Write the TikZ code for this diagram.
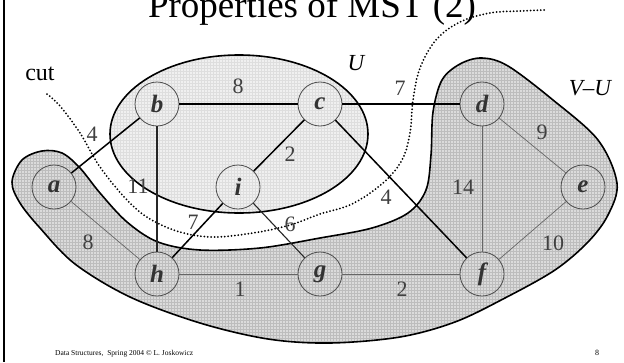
\documentclass[tikz,border=0pt]{standalone}
\usepackage{fontspec}
\setmainfont{Liberation Serif}
\usetikzlibrary{patterns}
\begin{document}
\begin{tikzpicture}[x=1pt,y=-1pt,
  vert/.style={circle, draw=black!70, line width=0.8pt, minimum size=44pt, inner sep=0pt,
    font=\fontsize{25}{27}\selectfont\bfseries\itshape, text=black!80},
  heavy/.style={line width=1.5pt, black},
  medium/.style={line width=1.1pt, black!85},
  light/.style={line width=0.7pt, black!60},
  elab/.style={font=\fontsize{22}{24}\selectfont, text=black!75, inner sep=0pt},
  tlab/.style={font=\fontsize{24}{26}\selectfont, inner sep=0pt},
  region/.style={line width=1.6pt, black},
  cutline/.style={line width=2pt, line cap=round, dash pattern=on 0pt off 3.4pt, black}
]
\useasboundingbox (0,0) rectangle (624,362);
\clip (0,0) rectangle (624,362);
\fill[white] (0,0) rectangle (624,362);

% V-U region
\path[fill=black!14, postaction={pattern=grid, pattern color=black!26}]
  plot[smooth cycle, tension=0.55] coordinates {
  (12,182) (22,160) (42,151) (62,153) (80,168) (100,193) (127,222) (158,242)
  (200,250) (260,248) (320,238) (372,228) (408,213) (426,190) (431,155) (433,112)
  (442,80) (460,64) (482,58) (508,66) (553,100) (598,140) (617,183) (608,215)
  (588,242) (555,270) (505,298) (455,322) (400,337) (330,343) (268,339) (200,323)
  (130,297) (75,264) (40,228) (20,203)};
\draw[region] plot[smooth cycle, tension=0.55] coordinates {
  (12,182) (22,160) (42,151) (62,153) (80,168) (100,193) (127,222) (158,242)
  (200,250) (260,248) (320,238) (372,228) (408,213) (426,190) (431,155) (433,112)
  (442,80) (460,64) (482,58) (508,66) (553,100) (598,140) (617,183) (608,215)
  (588,242) (555,270) (505,298) (455,322) (400,337) (330,343) (268,339) (200,323)
  (130,297) (75,264) (40,228) (20,203)};

% U region
\path[fill=black!6, postaction={pattern=grid, pattern color=black!13}]
  (239,134) ellipse [x radius=129, y radius=79];
\draw[region] (239,134) ellipse [x radius=129, y radius=79];

% cut
\draw[cutline] plot[smooth, tension=0.6] coordinates {
  (47,94) (60,106) (80,133) (100,167) (127,200) (150,219) (180,232) (213,237)
  (253,233) (290,225) (320,214) (352,204) (383,183) (402,160) (410,133) (413,100)
  (420,68) (436,40) (460,22) (490,13) (520,11) (546,10)};

% vertices
\node[vert] (a) at (54,187) {a};
\node[vert] (b) at (157,104) {b};
\node[vert] (c) at (320,104) {c};
\node[vert] (d) at (482,104) {d};
\node[vert] (e) at (583,187) {e};
\node[vert] (f) at (482,274) {f};
\node[vert] (g) at (320,274) {g};
\node[vert] (h) at (157,274) {h};
\node[vert] (i) at (238,187) {i};

% edges
\draw[heavy] (a) -- (b);
\draw[heavy] (b) -- (c);
\draw[heavy] (c) -- (d);
\draw[heavy] (c) -- (i);
\draw[heavy] (h) -- (i);
\draw[heavy] (c) -- (f);
\draw[medium] (b) -- (h);
\draw[medium] (i) -- (g);
\draw[light] (a) -- (h);
\draw[light] (h) -- (g);
\draw[light] (g) -- (f);
\draw[light] (d) -- (f);
\draw[light] (d) -- (e);
\draw[light] (e) -- (f);

% edge labels
\node[elab] (lab) at (92,134) {4};
\node[elab] (lbc) at (238,86) {8};
\node[elab] (lcd) at (400,88) {7};
\node[elab] (lbh) at (138,186) {11};
\node[elab] (lci) at (290,154) {2};
\node[elab] (lhi) at (193,222) {7};
\node[elab] (lig) at (290,224) {6};
\node[elab] (lah) at (88,242) {8};
\node[elab] (lcf) at (386,197) {4};
\node[elab] (ldf) at (463,187) {14};
\node[elab] (lde) at (542,132) {9};
\node[elab] (lef) at (553,243) {10};
\node[elab] (lhg) at (240,289) {1};
\node[elab] (lgf) at (402,289) {2};

% texts
\node[tlab] (cut) at (40,74) {cut};
\node[tlab, font=\fontsize{23}{25}\selectfont\itshape] (U) at (356,63) {U};
\node[tlab, font=\fontsize{23}{25}\selectfont\itshape] (VU) at (590,88) {V–U};
\node[anchor=base, font=\fontsize{37}{42}\selectfont, inner sep=0pt] (title) at (312,17) {Properties of MST (2)};

% border and footer
\draw[line width=2pt] (4,0) -- (4,362);
\node[anchor=base west, font=\fontsize{7.5}{9}\selectfont, inner sep=0pt] (foot) at (55,355) {Data Structures,~ Spring 2004 \textcopyright{} L. Joskowicz};
\node[anchor=base, font=\fontsize{8}{9}\selectfont, inner sep=0pt] (pg) at (597,355) {8};
\end{tikzpicture}
\end{document}
